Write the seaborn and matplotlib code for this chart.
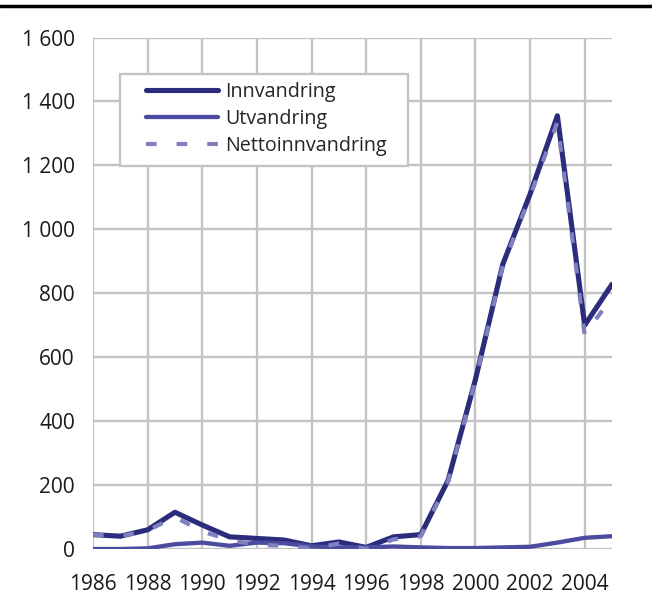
import matplotlib
matplotlib.use("Agg")
import matplotlib.pyplot as plt
import matplotlib.patches as mpatches
import pandas as pd
import seaborn as sns

# Data
years = list(range(1986, 2006))
innvandring = [45, 40, 60, 115, 75, 38, 33, 28, 10, 22, 5, 38, 45, 215, 530, 890, 1110, 1355, 700, 828]
utvandring = [0, 0, 2, 15, 20, 10, 20, 18, 8, 5, 5, 8, 5, 3, 3, 5, 7, 20, 35, 40]
netto = [45, 40, 58, 100, 55, 28, 13, 10, 2, 17, 0, 30, 40, 212, 527, 885, 1103, 1335, 670, 788]

df = pd.DataFrame({
    "year": years,
    "Innvandring": innvandring,
    "Utvandring": utvandring,
    "Nettoinnvandring": netto,
})

sns.set_style("white")
plt.rcParams["font.family"] = ["Open Sans", "DejaVu Sans"]

W, H = 652, 610
# axes box in pixels: left 93, right 612, top 37.5, bottom 549
fig = plt.figure(figsize=(W / 100, H / 100), dpi=100)
ax = fig.add_axes([93 / W, 1 - 549 / H, (612 - 93) / W, (549 - 37.5) / H])

grid_c = "#c3c3c3"
net_dash = [2.55, 4.8]
sns.lineplot(data=df, x="year", y="Innvandring", ax=ax, color="#2b2d7c", lw=3.7,
             label="Innvandring", zorder=3)
sns.lineplot(data=df, x="year", y="Utvandring", ax=ax, color="#4b4ca0", lw=3.1,
             label="Utvandring", zorder=3)
sns.lineplot(data=df, x="year", y="Nettoinnvandring", ax=ax, color="#8080c0", lw=3.0,
             label="Nettoinnvandring", zorder=4)
ax.lines[-1].set_dashes(net_dash)

ax.set_xlim(1986, 2005)
ax.set_ylim(0, 1600)
ax.set_xticks(range(1986, 2005, 2))
ax.set_yticks(range(0, 1601, 200))
ax.set_yticklabels([f"{v:,}".replace(",", " ") for v in range(0, 1601, 200)])
ax.set_xlabel("")
ax.set_ylabel("")

ax.grid(True, color=grid_c, lw=1.7)
for s in ax.spines.values():
    s.set_visible(False)
ax.tick_params(axis="both", length=7, width=1.7, color=grid_c, labelsize=15,
               labelcolor="#1a1a1a", pad=6)
ax.tick_params(axis="x", pad=11)

# legend content, frame drawn separately (wider side padding than top/bottom)
ax_w, ax_h = 612 - 93, 549 - 37.5
leg = ax.legend(loc="upper left", bbox_to_anchor=((143 - 93) / ax_w, 1 - (79 - 37.5) / ax_h),
                frameon=False, fontsize=14.2, handlelength=3.65,
                handletextpad=0.35, labelspacing=0.35, borderpad=0.15, borderaxespad=0)
leg.set_zorder(6)
leg.get_lines()[2].set_dashes(net_dash)

fig.canvas.draw()
bb = leg.get_window_extent(fig.canvas.get_renderer())
frame = mpatches.Rectangle((bb.x0 - 23, bb.y0 - 7), bb.width + 23 + 19, bb.height + 12,
                           transform=None, facecolor="white", edgecolor=grid_c,
                           lw=1.7, zorder=5, clip_on=False)
ax.add_patch(frame)

# Black rule at the top
fig.add_artist(plt.Line2D([0, 1], [1 - 6 / H, 1 - 6 / H], color="black", lw=2.5,
                          transform=fig.transFigure))

fig.savefig("out.png", dpi=100)
